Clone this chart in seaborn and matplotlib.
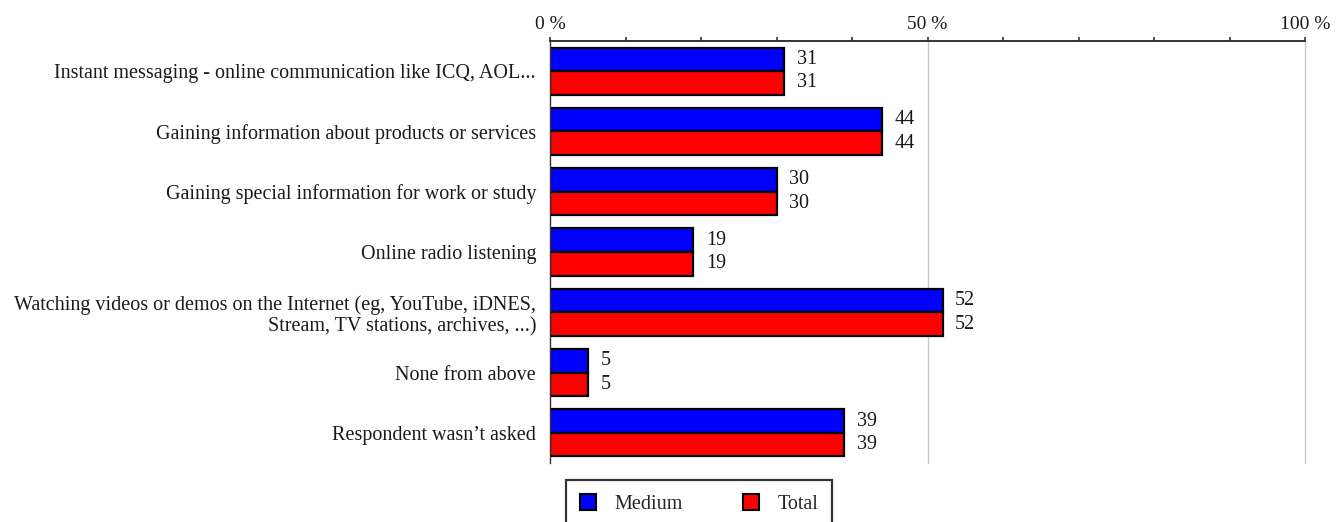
import matplotlib
matplotlib.use("Agg")
import matplotlib.pyplot as plt
import seaborn as sns
import pandas as pd
from matplotlib.patches import Patch
from matplotlib.ticker import FixedLocator

categories = [
    "Instant messaging - online communication like ICQ, AOL...",
    "Gaining information about products or services",
    "Gaining special information for work or study",
    "Online radio listening",
    "Watching videos or demos on the Internet (eg, YouTube, iDNES,\nStream, TV stations, archives, ...)",
    "None from above",
    "Respondent wasn\u2019t asked",
]
medium = [31, 44, 30, 19, 52, 5, 39]
total = [31, 44, 30, 19, 52, 5, 39]
series_names = ["Medium", "Total"]
colors = ["#0000ff", "#ff0000"]
tick_values = [0, 50, 100]

df = pd.DataFrame({
    "category": categories * 2,
    "value": medium + total,
    "series": [series_names[0]] * len(categories) + [series_names[1]] * len(categories),
})

sns.set_style("white")
plt.rcParams["font.family"] = ["Liberation Serif", "DejaVu Serif"]
FS = 14.5
TXT = "#1a1a1a"

fig = plt.figure(figsize=(13.43, 5.22), dpi=100)
ax = fig.add_axes([550 / 1343, 1 - 463 / 522, (1305 - 550) / 1343, (463 - 41) / 522])

sns.barplot(data=df, y="category", x="value", hue="series", orient="h",
            palette=colors, saturation=1, edgecolor="black", linewidth=1.6,
            width=0.78, order=categories, hue_order=series_names,
            legend=False, ax=ax)

for container in ax.containers:
    ax.bar_label(container, labels=[f"{v:g}" for v in container.datavalues],
                 padding=9, fontsize=FS, color=TXT)

ax.set_xlim(0, 100)
ax.set_ylim(len(categories) - 0.5, -0.5)
ax.set_xlabel("")
ax.set_ylabel("")

# top axis with ticks every 10 %, labelled at 0, 50 and 100
ax.xaxis.tick_top()
ax.xaxis.set_major_locator(FixedLocator(list(range(0, 101, 10))))
ax.set_xticklabels([f"{t} %" if t in tick_values else "" for t in range(0, 101, 10)],
                   fontsize=FS - 0.5, color=TXT)
ax.tick_params(axis="x", direction="out", length=3, width=1.2, color="#333333", pad=3)

for v in tick_values[1:]:
    ax.axvline(v, color="#c8c8c8", linewidth=1.0, zorder=0, clip_on=False)

# category boundary ticks on the left spine
ax.set_yticks(range(len(categories)))
ax.set_yticklabels(categories, fontsize=FS, color=TXT, linespacing=1.15)
ax.tick_params(axis="y", which="major", length=0, pad=10)
ax.set_yticks([k - 0.5 for k in range(1, len(categories))], minor=True)
ax.tick_params(axis="y", which="minor", direction="in", length=3, width=1.0, color="#333333")

for side in ["right", "bottom"]:
    ax.spines[side].set_visible(False)
ax.spines["top"].set_color("#333333")
ax.spines["top"].set_linewidth(1.4)
ax.spines["left"].set_color("#333333")
ax.spines["left"].set_linewidth(1.0)

handles = [Patch(facecolor=c, edgecolor="black", linewidth=1.5) for c in colors]
leg = fig.legend(handles, series_names, loc="upper center", ncol=2,
                 bbox_to_anchor=(699 / 1343, 1 - 480 / 522), borderaxespad=0,
                 frameon=True, fancybox=False, fontsize=FS,
                 handlelength=0.8, handleheight=0.8, columnspacing=3.0,
                 borderpad=0.7, handletextpad=0.9)
leg.get_frame().set_edgecolor("black")
leg.get_frame().set_linewidth(1.6)

fig.savefig("out.png", dpi=100)
